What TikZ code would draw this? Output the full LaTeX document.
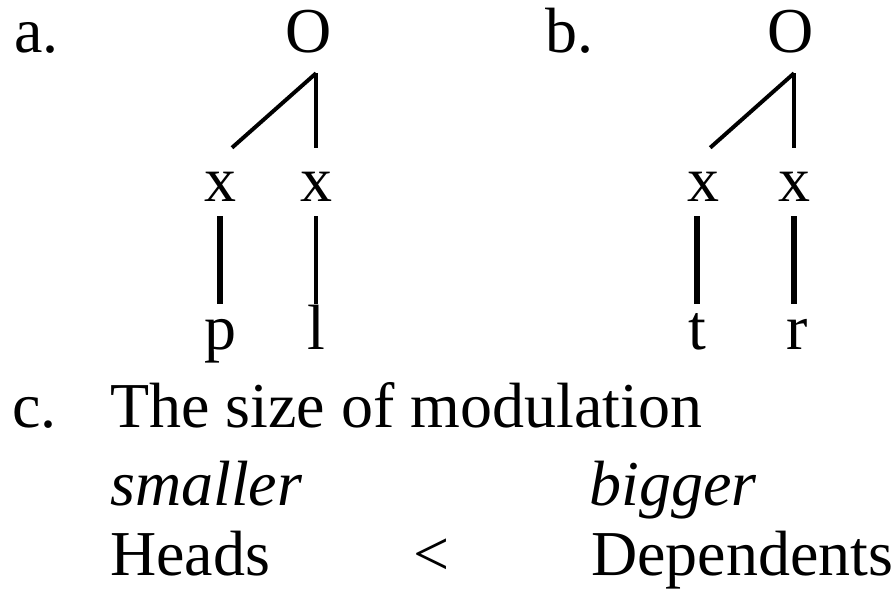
\documentclass[tikz,border=0pt]{standalone}
\usepackage{fontspec}
\setmainfont{Liberation Serif}
\usetikzlibrary{calc}

\begin{document}
\begin{tikzpicture}[
    x=0.025cm, y=-0.025cm,
    every node/.style={font=\fontsize{45.5}{54}\selectfont, inner sep=0pt},
    label/.style={anchor=base west},
    root/.style={anchor=base, text depth=0.5cm},
    slot/.style={anchor=base, text height=1.35cm, text depth=0.35cm},
    seg/.style={anchor=base, text height=1.15cm, text depth=0pt},
    arm/.style={line width=2.8pt},
    stem/.style={line width=4.3pt}
]
\useasboundingbox (0,0) rectangle (896,590);

\node[label] (tagA) at (14,53) {a.};
\node[label] (tagB) at (545,53) {b.};

\node[root] (oa) at (309,53) {O};
\node[slot] (xal) at (220,202) {x};
\node[slot] (xar) at (316,202) {x};
\node[seg] (pa) at (220,350) {p};
\node[seg] (la) at (316,350) {l};

\node[root] (ob) at (791,53) {O};
\node[slot] (xbl) at (703,202) {x};
\node[slot] (xbr) at (794,202) {x};
\node[seg] (tb) at (697,350) {t};
\node[seg] (rb) at (797,350) {r};

\draw[arm] (oa.south -| xar) -- ([xshift=0.3cm]xal.north);
\draw[arm] (oa.south -| xar) -- (xar.north);
\draw[stem] (xal.south) -- (pa.north);
\draw[arm] (xar.south) -- (la.north);

\draw[arm] (ob.south -| xbr) -- ([xshift=0.18cm]xbl.north);
\draw[arm] (ob.south -| xbr) -- (xbr.north);
\draw[stem] (tb.north |- xbl.south) -- (tb.north);
\draw[stem] (xbr.south) -- (xbr.south |- rb.north);

\node[label] (tagC) at (12,428) {c.};
\node[label] (title) at (110,428) {The size of modulation};
\node[label, font=\fontsize{45.5}{54}\selectfont\itshape] (small) at (110,505) {smaller};
\node[label, font=\fontsize{45.5}{54}\selectfont\itshape] (big) at (589,505) {bigger};
\node[label] (heads) at (110,575) {Heads};
\node[anchor=base] (less) at (432,575) {<};
\node[label] (deps) at (591,575) {Dependents};
\end{tikzpicture}
\end{document}
